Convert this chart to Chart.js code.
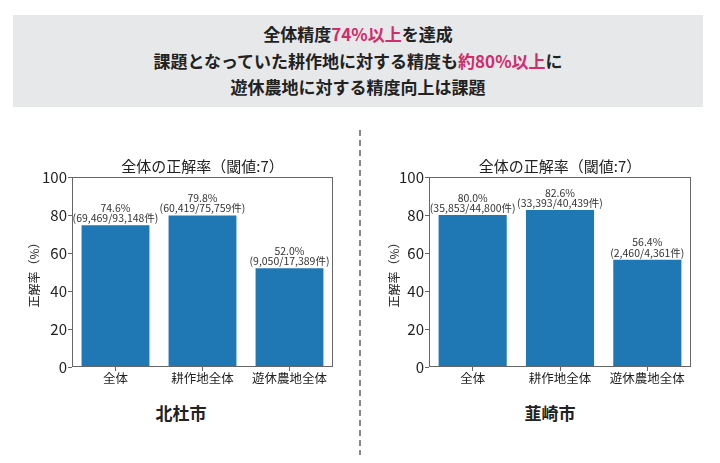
<!DOCTYPE html>
<html>
<head>
<meta charset="utf-8">
<script src="https://cdn.jsdelivr.net/npm/chart.js@4"></script>
<style>
  body { margin: 0; width: 720px; height: 463px; background: #fff; position: relative; overflow: hidden;
    font-family: "Noto Sans CJK JP", "Noto Sans", sans-serif; }
  .banner { position: absolute; left: 13px; top: 15px; width: 690px; height: 92px; background: #e7e8e9;
    text-align: center; font-weight: bold; font-size: 17px; line-height: 26.5px; color: #222;
    padding-top: 6px; box-sizing: border-box; }
  .pink { color: #cf2d6b; }
  .box { position: absolute; top: 150px; width: 320px; height: 240px; }
  .city { position: absolute; top: 400px; width: 120px; text-align: center; font-weight: bold; font-size: 17px; color: #222; }
  .divider { position: absolute; left: 359px; top: 130px; width: 2px; height: 325px;
    background: repeating-linear-gradient(to bottom, #888 0 6px, transparent 6px 10px); }
</style>
</head>
<body>
<div class="banner">
  全体精度<span class="pink">74%以上</span>を達成<br>
  課題となっていた耕作地に対する精度も<span class="pink">約80%以上</span>に<br>
  遊休農地に対する精度向上は課題
</div>
<div class="box" style="left:20px"><canvas id="chartHokuto" width="320" height="240"></canvas></div>
<div class="box" style="left:380px"><canvas id="chartNirasaki" width="320" height="240"></canvas></div>
<div class="city" style="left:121px">北杜市</div>
<div class="city" style="left:490px">韮崎市</div>
<div class="divider"></div>
<script>
let labels = ["全体", "耕作地全体", "遊休農地全体"];

// 北杜市
let hokutoRate = [74.6, 79.8, 52.0];
let hokutoCount = ["(69,469/93,148件)", "(60,419/75,759件)", "(9,050/17,389件)"];
// 韮崎市
let nirasakiRate = [80.0, 82.6, 56.4];
let nirasakiCount = ["(35,853/44,800件)", "(33,393/40,439件)", "(2,460/4,361件)"];

let yTicks = [0, 20, 40, 60, 80, 100];

const font = "'Noto Sans CJK JP', 'Noto Sans', sans-serif";

// frame around plot area (matplotlib style)
const framePlugin = {
  id: "frame",
  afterDraw(chart) {
    const { ctx, chartArea: a } = chart;
    ctx.save();
    ctx.strokeStyle = "#666";
    ctx.lineWidth = 1;
    ctx.strokeRect(a.left + 0.5, a.top + 0.5, a.right - a.left - 1, a.bottom - a.top - 1);
    ctx.restore();
  },
};

// value + count labels above bars
const barLabelPlugin = {
  id: "barLabels",
  afterDatasetsDraw(chart, args, opts) {
    const ctx = chart.ctx;
    const meta = chart.getDatasetMeta(0);
    const values = chart.data.datasets[0].data;
    ctx.save();
    ctx.font = "10.5px " + font;
    ctx.fillStyle = "#333";
    ctx.textAlign = "center";
    ctx.textBaseline = "alphabetic";
    meta.data.forEach((bar, i) => {
      ctx.fillText(opts.counts[i], bar.x, bar.y - 3);
      ctx.fillText(values[i].toFixed(1) + "%", bar.x, bar.y - 13.5);
    });
    ctx.restore();
  },
};

function makeConfig(rates, counts, axisWidth, padRight) {
  return {
    type: "bar",
    data: {
      labels: [...labels],
      datasets: [
        {
          data: rates,
          backgroundColor: "#1f77b4",
          barPercentage: 1,
          categoryPercentage: 0.78,
        },
      ],
    },
    options: {
      responsive: false,
      animation: false,
      layout: { padding: { left: 0, right: padRight, top: 0, bottom: 0 } },
      plugins: {
        legend: { display: false },
        tooltip: { enabled: false },
        title: {
          display: true,
          fullSize: false,
          text: "全体の正解率（閾値:7）",
          color: "#222",
          font: { family: font, size: 15, weight: "normal" },
          padding: { top: 7, bottom: 2 },
        },
        barLabels: { counts: counts },
      },
      scales: {
        x: {
          grid: { drawOnChartArea: false, offset: false, color: "#666", tickLength: 4 },
          border: { display: false },
          ticks: { color: "#222", padding: 0, font: { family: font, size: 12.5 } },
          afterFit(scale) { scale.height = 23; },
        },
        y: {
          min: 0,
          max: 100,
          afterBuildTicks(scale) { scale.ticks = yTicks.map((v) => ({ value: v })); },
          grid: { drawOnChartArea: false, color: "#666", tickLength: 4 },
          border: { display: false },
          ticks: { color: "#222", padding: 1, font: { family: font, size: 15 } },
          title: {
            display: true,
            text: "正解率（%）",
            color: "#222",
            font: { family: font, size: 12 },
            padding: { top: 7, bottom: 0 },
          },
          afterFit(scale) { scale.width = axisWidth; },
        },
      },
    },
    plugins: [framePlugin, barLabelPlugin],
  };
}

var chartHokuto = new Chart(document.getElementById("chartHokuto"), makeConfig(hokutoRate, hokutoCount, 52, 7));
var chartNirasaki = new Chart(document.getElementById("chartNirasaki"), makeConfig(nirasakiRate, nirasakiCount, 49, 9));
</script>
</body>
</html>
